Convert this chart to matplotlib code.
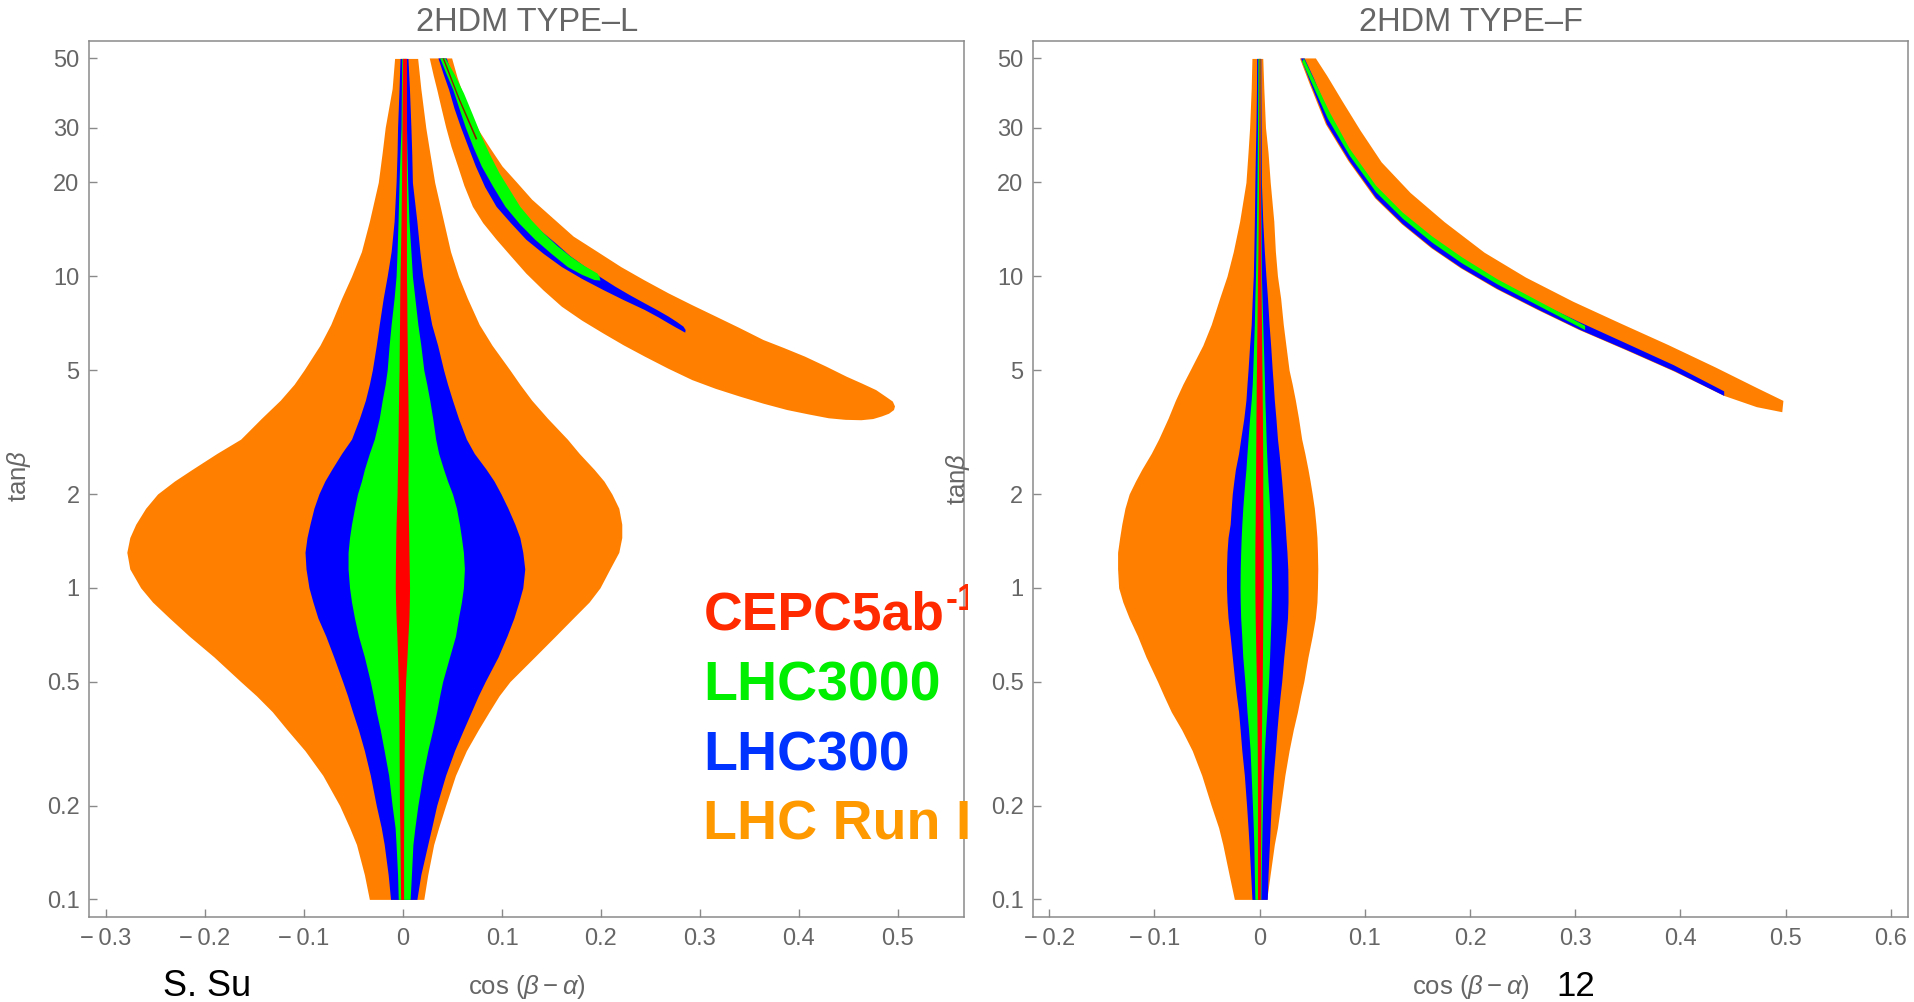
import numpy as np
import matplotlib
matplotlib.use("Agg")
import matplotlib.pyplot as plt
from matplotlib.ticker import NullLocator
from matplotlib.transforms import Bbox, TransformedBbox

plt.rcParams['font.family'] = ['Liberation Sans', 'DejaVu Sans']
plt.rcParams['mathtext.fontset'] = 'custom'
plt.rcParams['mathtext.rm'] = 'Liberation Sans'
plt.rcParams['mathtext.it'] = 'Liberation Sans:italic'
plt.rcParams['mathtext.bf'] = 'Liberation Sans:bold'

# ---------------- data ----------------
TB = [50, 40, 30, 25, 20, 15, 12, 10, 8.5, 7, 6, 5, 4.5, 4, 3.5, 3, 2.7, 2.4, 2.2, 2, 1.8, 1.6, 1.45, 1.3,
      1.15, 1.0, 0.9, 0.8, 0.7, 0.6, 0.5, 0.45, 0.4, 0.35, 0.3, 0.25, 0.2, 0.17, 0.15, 0.12, 0.1]

# Type-L central region: left / right boundary of cos(beta-alpha) at each tan(beta) in TB
L_orange_lo = [-0.0085, -0.011, -0.018, -0.021, -0.025, -0.034, -0.042, -0.052, -0.062, -0.073, -0.084, -0.100, -0.110, -0.124, -0.143, -0.164, -0.188, -0.213, -0.231, -0.248, -0.260, -0.270, -0.276, -0.279,
               -0.276, -0.265, -0.253, -0.236, -0.216, -0.191, -0.164, -0.148, -0.132, -0.117, -0.099, -0.081, -0.064, -0.054, -0.047, -0.039, -0.034]
L_orange_hi = [0.0148, 0.018, 0.023, 0.027, 0.032, 0.041, 0.048, 0.056, 0.065, 0.077, 0.090, 0.108, 0.118, 0.130, 0.146, 0.166, 0.178, 0.193, 0.203, 0.211, 0.218, 0.221, 0.221, 0.218,
               0.209, 0.199, 0.188, 0.172, 0.154, 0.133, 0.108, 0.097, 0.087, 0.076, 0.064, 0.053, 0.043, 0.036, 0.031, 0.025, 0.021]
L_blue_lo = [-0.003, -0.004, -0.0055, -0.006, -0.007, -0.009, -0.012, -0.016, -0.020, -0.024, -0.027, -0.031, -0.034, -0.038, -0.044, -0.052, -0.062, -0.072, -0.079, -0.085, -0.090, -0.094, -0.097, -0.099,
             -0.098, -0.095, -0.091, -0.086, -0.078, -0.070, -0.061, -0.056, -0.051, -0.045, -0.039, -0.033, -0.027, -0.022, -0.019, -0.015, -0.0126]
L_blue_hi = [0.005, 0.0065, 0.008, 0.0088, 0.0095, 0.014, 0.017, 0.020, 0.024, 0.029, 0.035, 0.041, 0.045, 0.050, 0.056, 0.064, 0.072, 0.084, 0.092, 0.099, 0.106, 0.113, 0.118, 0.121,
             0.123, 0.121, 0.117, 0.112, 0.105, 0.096, 0.083, 0.076, 0.069, 0.061, 0.052, 0.043, 0.034, 0.029, 0.025, 0.018, 0.014]
L_green_lo = [-0.0013, -0.0016, -0.002, -0.003, -0.004, -0.005, -0.006, -0.007, -0.009, -0.012, -0.014, -0.016, -0.018, -0.021, -0.024, -0.029, -0.034, -0.039, -0.042, -0.046, -0.049, -0.052, -0.054, -0.0555,
              -0.0555, -0.054, -0.052, -0.049, -0.045, -0.039, -0.033, -0.030, -0.027, -0.023, -0.019, -0.0145, -0.011, -0.008, -0.007, -0.0055, -0.0048]
L_green_hi = [0.003, 0.0032, 0.0035, 0.004, 0.0047, 0.006, 0.008, 0.0095, 0.012, 0.015, 0.018, 0.021, 0.024, 0.027, 0.030, 0.033, 0.036, 0.041, 0.045, 0.050, 0.054, 0.057, 0.059, 0.061,
              0.062, 0.061, 0.059, 0.056, 0.053, 0.047, 0.040, 0.037, 0.034, 0.030, 0.025, 0.020, 0.015, 0.012, 0.010, 0.0085, 0.0072]
L_red_lo = [-0.0005, -0.0008, -0.001, -0.0013, -0.0015, -0.002, -0.0025, -0.003, -0.0033, -0.0035, -0.0038, -0.004, -0.0043, -0.0045, -0.0048, -0.005, -0.0053, -0.0056, -0.0058, -0.006, -0.0065, -0.007, -0.0073, -0.0075,
            -0.0077, -0.0078, -0.0075, -0.007, -0.0062, -0.0055, -0.0048, -0.0046, -0.0043, -0.0041, -0.004, -0.0038, -0.0036, -0.0032, -0.003, -0.0027, -0.0024]
L_red_hi = [0.0035, 0.0035, 0.0035, 0.0035, 0.0035, 0.0035, 0.0035, 0.0035, 0.0038, 0.004, 0.0043, 0.0045, 0.0048, 0.005, 0.0052, 0.0053, 0.0053, 0.0052, 0.005, 0.005, 0.0052, 0.0055, 0.0058, 0.006,
            0.0063, 0.0066, 0.0064, 0.006, 0.005, 0.004, 0.0026, 0.0022, 0.0018, 0.0015, 0.0012, 0.001, 0.0008, 0.0007, 0.0006, 0.0006, 0.0006]

# Type-L wrong-sign wedge (outline points: cos(beta-alpha), tan(beta))
L_wedge_orange_x = [0.027, 0.031, 0.0346, 0.039, 0.0436, 0.049, 0.0556, 0.062, 0.0706, 0.081, 0.0945, 0.109, 0.1245, 0.142, 0.1605, 0.181, 0.2024, 0.223,
                    0.2443, 0.268, 0.2923, 0.316, 0.3402, 0.364, 0.3881, 0.410, 0.4301, 0.447, 0.4630, 0.475, 0.4840, 0.491, 0.4960, 0.497, 0.4948,
                    0.488, 0.4780, 0.464, 0.4481, 0.428, 0.4061, 0.385, 0.3642, 0.340, 0.3162, 0.292, 0.2683, 0.244, 0.2204, 0.196, 0.1724, 0.151,
                    0.1305, 0.115, 0.1005, 0.088, 0.0766, 0.068, 0.0616, 0.055, 0.0496]
L_wedge_orange_t = [50, 44, 39.6, 34.5, 30.0, 26, 22.5, 19.5, 16.7, 14.8, 13.1, 11.6, 10.2, 9.0, 7.98, 7.2, 6.55, 6.0,
                    5.52, 5.05, 4.64, 4.35, 4.11, 3.9, 3.72, 3.60, 3.50, 3.46, 3.45, 3.48, 3.55, 3.62, 3.72, 3.82, 3.96,
                    4.10, 4.31, 4.52, 4.76, 5.12, 5.52, 5.88, 6.24, 6.82, 7.42, 8.08, 8.81, 9.7, 10.7, 12.0, 13.4, 15.4,
                    17.6, 20.0, 22.5, 25.8, 29.4, 33.5, 37.7, 43.5, 50]
L_wedge_blue_x = [0.0358, 0.041, 0.0466, 0.052, 0.0586, 0.066, 0.0736, 0.083, 0.0945, 0.109, 0.1245, 0.142, 0.1605, 0.181, 0.2024, 0.223, 0.2443,
                  0.258, 0.2683, 0.2755, 0.2803, 0.2835, 0.2851, 0.2855, 0.2833,
                  0.277, 0.2683, 0.257, 0.2443, 0.229, 0.2144, 0.199, 0.1844, 0.169, 0.1544, 0.139, 0.1245, 0.112, 0.1005, 0.091, 0.0826,
                  0.075, 0.0676, 0.060, 0.0526, 0.048, 0.0442]
L_wedge_blue_t = [50, 44.5, 39.6, 34.5, 30.0, 26, 22.5, 19.3, 16.7, 14.8, 13.1, 11.8, 10.7, 9.8, 9.03, 8.38, 7.79,
                  7.38, 7.06, 6.85, 6.72, 6.63, 6.59, 6.72, 6.89,
                  7.12, 7.42, 7.78, 8.18, 8.7, 9.26, 9.95, 10.7, 11.6, 12.75, 14.0, 15.5, 17.3, 19.4, 21.9, 24.8,
                  28.1, 31.7, 36.3, 41.6, 46, 50]
L_wedge_green_x = [0.0376, 0.044, 0.0508, 0.057, 0.0634, 0.071, 0.0796, 0.091, 0.1035, 0.118, 0.1335, 0.150, 0.1665, 0.181, 0.1935, 0.1995,
                   0.1985, 0.1965, 0.183, 0.1695, 0.156, 0.1425, 0.130, 0.1185, 0.108, 0.0975, 0.088, 0.0796, 0.0705, 0.0616, 0.052, 0.0430]
L_wedge_green_t = [50, 44.5, 39.6, 34.5, 30.0, 26.0, 22.5, 19.4, 16.7, 14.7, 13.1, 11.8, 10.7, 10.1, 9.72, 9.68,
                   9.95, 10.2, 10.8, 11.55, 12.5, 13.7, 15.1, 16.7, 18.9, 21.4, 24.5, 28.0, 33.0, 38.6, 44.5, 50]
L_wedge_red_x = [0.0400, 0.0560, 0.0736, 0.0750, 0.0575, 0.0415]
L_wedge_red_t = [50, 37.0, 27.4, 27.6, 37.0, 50]

# Type-F central region
F_orange_lo = [-0.0073, -0.008, -0.0095, -0.011, -0.013, -0.019, -0.025, -0.031, -0.038, -0.046, -0.054, -0.066, -0.073, -0.080, -0.087, -0.096, -0.103, -0.112, -0.118, -0.124, -0.128, -0.131, -0.133, -0.135,
               -0.135, -0.134, -0.130, -0.124, -0.116, -0.108, -0.097, -0.091, -0.084, -0.074, -0.064, -0.055, -0.046, -0.039, -0.035, -0.029, -0.024]
F_orange_hi = [0.003, 0.004, 0.0056, 0.008, 0.0101, 0.0135, 0.015, 0.017, 0.020, 0.0225, 0.025, 0.028, 0.031, 0.034, 0.037, 0.040, 0.043, 0.046, 0.048, 0.050, 0.052, 0.0535, 0.0545, 0.055,
               0.0553, 0.055, 0.0545, 0.053, 0.050, 0.046, 0.042, 0.039, 0.036, 0.032, 0.028, 0.024, 0.020, 0.017, 0.014, 0.010, 0.0068]
F_blue_lo = [-0.0028, -0.003, -0.0035, -0.004, -0.0045, -0.005, -0.0055, -0.006, -0.007, -0.008, -0.0095, -0.011, -0.012, -0.013, -0.015, -0.018, -0.020, -0.023, -0.0245, -0.026, -0.027, -0.028, -0.030, -0.031,
             -0.0315, -0.0315, -0.031, -0.030, -0.028, -0.026, -0.0236, -0.022, -0.020, -0.0185, -0.0169, -0.0145, -0.0124, -0.011, -0.010, -0.0085, -0.0073]
F_blue_hi = [0.0011, 0.0012, 0.0014, 0.0015, 0.0017, 0.003, 0.0045, 0.006, 0.0075, 0.009, 0.0105, 0.012, 0.013, 0.014, 0.0155, 0.017, 0.0185, 0.020, 0.021, 0.022, 0.023, 0.0242, 0.025, 0.026,
             0.0268, 0.027, 0.027, 0.0265, 0.025, 0.023, 0.021, 0.0195, 0.018, 0.0165, 0.015, 0.013, 0.011, 0.010, 0.0093, 0.008, 0.0073]
F_green_lo = [-0.0017, -0.0018, -0.002, -0.0022, -0.0025, -0.003, -0.0035, -0.0039, -0.0045, -0.005, -0.0057, -0.0065, -0.007, -0.008, -0.0095, -0.011, -0.012, -0.013, -0.014, -0.015, -0.016, -0.0169, -0.0175, -0.018,
              -0.0184, -0.0186, -0.0184, -0.018, -0.017, -0.016, -0.014, -0.013, -0.012, -0.0105, -0.009, -0.008, -0.0068, -0.006, -0.0055, -0.005, -0.0045]
F_green_hi = [0.0006, 0.0007, 0.0008, 0.0009, 0.001, 0.0013, 0.0015, 0.0017, 0.0023, 0.003, 0.0036, 0.0043, 0.0047, 0.005, 0.0056, 0.0062, 0.0067, 0.0074, 0.008, 0.0088, 0.0095, 0.0101, 0.0105, 0.011,
              0.0112, 0.0113, 0.0111, 0.0108, 0.0102, 0.0095, 0.0085, 0.0077, 0.0068, 0.0057, 0.0045, 0.0036, 0.0028, 0.0023, 0.002, 0.0015, 0.0012]
F_red_lo = [-0.0006, -0.0007, -0.0008, -0.0009, -0.001, -0.0013, -0.0016, -0.002, -0.0022, -0.0025, -0.0028, -0.003, -0.0032, -0.0033, -0.0035, -0.0036, -0.0037, -0.0038, -0.0039, -0.004, -0.0041, -0.0042, -0.0044, -0.0045,
            -0.0045, -0.0045, -0.0044, -0.0042, -0.0039, -0.0035, -0.003, -0.0028, -0.0026, -0.0024, -0.0022, -0.0021, -0.002, -0.002, -0.002, -0.002, -0.002]
F_red_hi = [0.0004, 0.00045, 0.0005, 0.0006, 0.0007, 0.0009, 0.001, 0.0012, 0.0015, 0.0018, 0.002, 0.0022, 0.0024, 0.0025, 0.0027, 0.0028, 0.0029, 0.003, 0.003, 0.003, 0.0031, 0.0032, 0.0033, 0.0034,
            0.0034, 0.0034, 0.0032, 0.003, 0.0029, 0.0027, 0.0025, 0.0022, 0.002, 0.0018, 0.0016, 0.0014, 0.0012, 0.0011, 0.001, 0.0008, 0.0006]

# Type-F wrong-sign wedge
F_wedge_orange_x = [0.0383, 0.0478, 0.0630, 0.0844, 0.1097, 0.1350, 0.1632, 0.1913, 0.2250, 0.2644, 0.3038, 0.3488, 0.3938, 0.4416, 0.4726, 0.4968,
                    0.4979, 0.4726, 0.4332, 0.3882, 0.3432, 0.2982, 0.2532, 0.2138, 0.1760, 0.1435, 0.1160, 0.0960, 0.0790, 0.0645, 0.0535]
F_wedge_orange_t = [50, 41.2, 30.7, 23.4, 17.8, 14.7, 12.3, 10.6, 9.10, 7.79, 6.72, 5.78, 4.95, 4.13, 3.80, 3.66,
                    3.98, 4.38, 5.10, 6.02, 7.05, 8.28, 9.90, 11.9, 14.9, 18.5, 23.2, 29.3, 36.3, 43.8, 50]
F_wedge_blue_x = [0.0394, 0.0489, 0.0641, 0.0855, 0.1108, 0.1361, 0.1643, 0.1924, 0.2262, 0.2656, 0.3049, 0.3499, 0.3949, 0.4416,
                  0.4416, 0.3938, 0.3488, 0.3038, 0.2644, 0.2250, 0.1913, 0.1632, 0.1350, 0.1097, 0.0855, 0.0664, 0.0518, 0.0428]
F_wedge_blue_t = [50, 41.2, 30.7, 23.4, 17.8, 14.7, 12.3, 10.6, 9.10, 7.79, 6.72, 5.78, 4.95, 4.13,
                  4.27, 5.18, 6.08, 7.13, 8.26, 9.69, 11.3, 13.2, 15.8, 19.2, 25.1, 32.7, 43.0, 50]
F_wedge_green_x = [0.0405, 0.0647, 0.0855, 0.1108, 0.1361, 0.1643, 0.1924, 0.2262, 0.2656, 0.3094,
                   0.3094, 0.2656, 0.2262, 0.1924, 0.1643, 0.1361, 0.1108, 0.0855, 0.0664, 0.0422]
F_wedge_green_t = [48.8, 32.1, 24.4, 18.6, 15.3, 12.8, 11.0, 9.41, 8.02, 6.72,
                   6.93, 8.30, 9.77, 11.5, 13.4, 16.0, 19.5, 25.7, 33.7, 50]

Y_TICKS = [0.1, 0.2, 0.5, 1, 2, 5, 10, 20, 30, 50]
Y_TICKLABELS = ['0.1', '0.2', '0.5', '1', '2', '5', '10', '20', '30', '50']
L_XTICKS = [-0.3, -0.2, -0.1, 0, 0.1, 0.2, 0.3, 0.4, 0.5]
F_XTICKS = [-0.2, -0.1, 0, 0.1, 0.2, 0.3, 0.4, 0.5, 0.6]
LEGEND_LABELS = ['LHC3000', 'LHC300', 'LHC Run I']

C_ORANGE = '#FF8000'
C_BLUE = '#0000FF'
C_GREEN = '#00FF00'
C_RED = '#FF0000'
GRAY_TXT = '#666666'
GRAY_LINE = '#8a8a8a'

W, H = 1915, 1002
fig = plt.figure(figsize=(W / 100, H / 100), dpi=100)


def px(x, y):
    return x / W, 1 - y / H


def fmt(v):
    if abs(v) < 1e-12:
        return '0'
    s = '%.1f' % abs(v)
    return ('\u2212\u2009' + s) if v < 0 else s


def setup(ax, xlim, xticks, title):
    ax.set_yscale('log')
    ax.set_ylim(0.0876, 57.0)
    ax.set_xlim(*xlim)
    ax.set_yticks(Y_TICKS)
    ax.set_yticklabels(Y_TICKLABELS)
    ax.yaxis.set_minor_locator(NullLocator())
    ax.set_xticks(xticks)
    ax.set_xticklabels([fmt(v) for v in xticks])
    ax.tick_params(direction='in', length=6, width=1, color=GRAY_LINE,
                   labelcolor=GRAY_TXT, labelsize=17)
    ax.tick_params(axis='x', pad=8)
    ax.tick_params(axis='y', pad=7)
    for s in ax.spines.values():
        s.set_color(GRAY_LINE)
        s.set_linewidth(1.1)
    ax.set_title(title, fontsize=23.5, color=GRAY_TXT, pad=7)


axL = fig.add_axes([89.3 / W, 1 - 917.3 / H, (964 - 89.3) / W, (917.3 - 40.7) / H])
axF = fig.add_axes([1033.1 / W, 1 - 917.3 / H, (1908.2 - 1033.1) / W, (917.3 - 40.7) / H])

kw = dict(linewidth=0)
# Type-L
axL.fill_betweenx(TB, L_orange_lo, L_orange_hi, color=C_ORANGE, **kw)
axL.fill(L_wedge_orange_x, L_wedge_orange_t, color=C_ORANGE, **kw)
axL.fill_betweenx(TB, L_blue_lo, L_blue_hi, color=C_BLUE, **kw)
axL.fill(L_wedge_blue_x, L_wedge_blue_t, color=C_BLUE, **kw)
axL.fill_betweenx(TB, L_green_lo, L_green_hi, color=C_GREEN, **kw)
axL.fill(L_wedge_green_x, L_wedge_green_t, color=C_GREEN, **kw)
axL.fill_betweenx(TB, L_red_lo, L_red_hi, color=C_RED, **kw)
axL.fill(L_wedge_red_x, L_wedge_red_t, color='#8B1A00', **kw)
setup(axL, (-0.3169, 0.5667), L_XTICKS, '2HDM TYPE\u2013L')

# Type-F
axF.fill_betweenx(TB, F_orange_lo, F_orange_hi, color=C_ORANGE, **kw)
axF.fill(F_wedge_orange_x, F_wedge_orange_t, color=C_ORANGE, **kw)
axF.fill_betweenx(TB, F_blue_lo, F_blue_hi, color=C_BLUE, **kw)
axF.fill(F_wedge_blue_x, F_wedge_blue_t, color=C_BLUE, **kw)
axF.fill_betweenx(TB, F_green_lo, F_green_hi, color=C_GREEN, **kw)
axF.fill(F_wedge_green_x, F_wedge_green_t, color=C_GREEN, **kw)
axF.fill_betweenx(TB, F_red_lo, F_red_hi, color=C_RED, **kw)
setup(axF, (-0.2153, 0.6165), F_XTICKS, '2HDM TYPE\u2013F')

# axis labels
xl = r'cos $(\beta - \alpha)$'
fig.text(*px(526.7, 987), xl, fontsize=18.5, color=GRAY_TXT, ha='center', va='center')
fig.text(*px(1470.6, 987), xl, fontsize=18.5, color=GRAY_TXT, ha='center', va='center')
fig.text(*px(19, 476), r'tan$\beta$', fontsize=18.5, color=GRAY_TXT, ha='center', va='center', rotation=90)
fig.text(*px(958, 479), r'tan$\beta$', fontsize=18.5, color=GRAY_TXT, ha='center', va='center', rotation=90)

# signature texts
fig.text(*px(163, 996), 'S. Su', fontsize=26, color='black', ha='left', va='baseline')
fig.text(*px(1556, 996), '12', fontsize=25, color='black', ha='left', va='baseline')

# coloured labels
clip = TransformedBbox(Bbox([[0, 0], [968 / W, 1]]), fig.transFigure)
t_cepc = fig.text(*px(704, 630), 'CEPC5ab', fontsize=38.5, fontweight='bold', color='#FF2A00',
                  ha='left', va='baseline')
t_cepc.set_clip_box(clip)
t_cepc.set_clip_on(True)
fig.canvas.draw()
ext = t_cepc.get_window_extent()
sup = fig.text(ext.x1 / W + 1 / W, 1 - 610 / H, '-1', fontsize=26, fontweight='bold', color='#FF2A00',
               ha='left', va='baseline')
sup.set_clip_box(clip)
sup.set_clip_on(True)

leg_colors = ['#00EE00', '#0033FF', '#FF9900']
leg_base = [700.7, 770.7, 840.0]
for lab, col, yb in zip(LEGEND_LABELS, leg_colors, leg_base):
    fig.text(*px(703, yb), lab, fontsize=40, fontweight='bold', color=col, ha='left', va='baseline')

fig.savefig('out.png', dpi=100)
